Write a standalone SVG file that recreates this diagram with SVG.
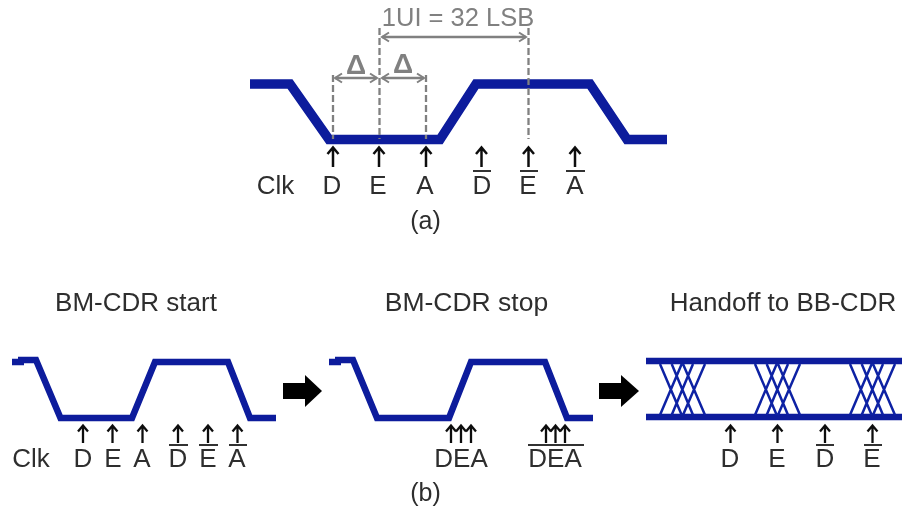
<svg xmlns="http://www.w3.org/2000/svg" width="902" height="507" viewBox="0 0 902 507">
<style>
text{font-family:"Liberation Sans",Arial,sans-serif;fill:#2e2e2e;font-size:26px;text-anchor:middle}
.g{fill:#808080}
.wa{fill:none;stroke:#0a1a9c;stroke-width:9.5;stroke-linejoin:miter}
.wb{fill:none;stroke:#0a1a9c;stroke-width:6.5;stroke-linejoin:miter}
.eye{fill:none;stroke:#0a1a9c;stroke-width:6.5}
.x{fill:none;stroke:#0f22a4;stroke-width:2.5}
.dash{stroke:#808080;stroke-width:2.3;stroke-dasharray:7 3;fill:none}
.dim{stroke:#808080;stroke-width:2.5;fill:none;marker-start:url(#gs);marker-end:url(#ge)}
.bar{stroke:#333;stroke-width:2;fill:none}
.block{fill:#000}
</style>
<defs>
<filter id="soft" x="0" y="0" width="100%" height="100%"><feGaussianBlur stdDeviation="0.45"/></filter>
<marker id="ge" markerUnits="userSpaceOnUse" markerWidth="12" markerHeight="12" refX="10" refY="6" orient="auto" viewBox="0 0 12 12"><path d="M3 1.5L10 6L3 10.5" fill="none" stroke="#808080" stroke-width="2"/></marker>
<marker id="gs" markerUnits="userSpaceOnUse" markerWidth="12" markerHeight="12" refX="2" refY="6" orient="auto" viewBox="0 0 12 12"><path d="M9 1.5L2 6L9 10.5" fill="none" stroke="#808080" stroke-width="2"/></marker>
<g id="a-up"><path d="M0 0V-19M-5.500 -13L0 -19.500L5.500 -13" fill="none" stroke="#111" stroke-width="2.500"/></g>
<g id="b-up"><path d="M0 0V-17M-5 -11.500L0 -17.500L5 -11.500" fill="none" stroke="#111" stroke-width="2.300"/></g>
<g id="cluster"><path class="x" d="M660 364L681.700 415M671.700 364L693 415M683 364L705 415M660 415L681.700 364M671.700 415L693 364M683 415L705 364"/></g>
</defs>
<g id="picture" filter="url(#soft)">
<rect width="902" height="507" fill="#fff"/>
<g id="wave-a"><path class="wa" d="M250 84H290L329 139.500H440L476 84H590L627 139.500H667"/></g>
<g id="connectors">
<path class="dash" d="M333 75V139M379.500 28V139M426 75V139M528.500 28V139"/>
<path class="dim" d="M335 78H377"/>
<path class="dim" d="M382 78H424"/>
<path class="dim" d="M382 37H526"/>
<path class="block" d="M283 383H305V375L322 391L305 407V399H283Z"/>
<path class="block" d="M599 383H621V375L639 391L621 407V399H599Z"/>
</g>
<g id="labels-a">
<text class="g" x="458" y="26" style="font-size:25.500px">1UI = 32 LSB</text>
<text class="g" x="356" y="74" style="font-size:28px;font-weight:bold">Δ</text>
<text class="g" x="403" y="73" style="font-size:28px;font-weight:bold">Δ</text>
<text x="275.500" y="194">Clk</text>
<text x="425.500" y="229" style="font-size:25px">(a)</text>
</g>
<g id="clk-a">
<g id="a-D"><use href="#a-up" x="333" y="167"/><text x="332" y="194">D</text></g>
<g id="a-E"><use href="#a-up" x="379" y="167"/><text x="378" y="194">E</text></g>
<g id="a-A"><use href="#a-up" x="426" y="167"/><text x="425" y="194">A</text></g>
<g id="a-Dbar"><use href="#a-up" x="481.500" y="167"/><path class="bar" d="M473 171H491"/><text x="482" y="194">D</text></g>
<g id="a-Ebar"><use href="#a-up" x="528.500" y="167"/><path class="bar" d="M520 171H538"/><text x="528" y="194">E</text></g>
<g id="a-Abar"><use href="#a-up" x="575" y="167"/><path class="bar" d="M566 171H585"/><text x="575" y="194">A</text></g>
</g>
<g id="title-start"><text x="136" y="311">BM-CDR start</text></g>
<g id="title-stop"><text x="466.500" y="311" style="font-size:26.500px">BM-CDR stop</text></g>
<g id="title-handoff"><text x="783" y="311">Handoff to BB-CDR</text></g>
<g id="wave-b1"><path class="wb" d="M12 362H24M18 360H36L60.500 418H132L155 362H228L250 418H276"/></g>
<g id="wave-b2"><path class="wb" d="M329 362H341M335 360H353L377 418H449L471 362H545L567 418H593"/></g>
<g id="eye">
<path class="eye" d="M646 361H902M646 417H902"/>
<use href="#cluster"/><use href="#cluster" x="95"/><use href="#cluster" x="190"/>
</g>
<g id="clk-b1">
<text x="31" y="467">Clk</text>
<g><use href="#b-up" x="83" y="443"/><text x="83" y="467">D</text></g>
<g><use href="#b-up" x="112.500" y="443"/><text x="113" y="467">E</text></g>
<g><use href="#b-up" x="142.500" y="443"/><text x="142" y="467">A</text></g>
<g><use href="#b-up" x="178" y="443"/><path class="bar" d="M169 445H188"/><text x="178" y="467">D</text></g>
<g><use href="#b-up" x="208" y="443"/><path class="bar" d="M199 445H218"/><text x="208" y="467">E</text></g>
<g><use href="#b-up" x="237.500" y="443"/><path class="bar" d="M229 445H247"/><text x="237" y="467">A</text></g>
</g>
<g id="clk-b2">
<g><use href="#b-up" x="451" y="443"/><use href="#b-up" x="461" y="443"/><use href="#b-up" x="471" y="443"/><text x="461" y="467">DEA</text></g>
<g><use href="#b-up" x="546" y="443"/><use href="#b-up" x="555.500" y="443"/><use href="#b-up" x="565" y="443"/><path class="bar" d="M528 445H584"/><text x="555" y="467">DEA</text></g>
</g>
<g id="clk-b3">
<g><use href="#b-up" x="730.500" y="443"/><text x="730" y="467">D</text></g>
<g><use href="#b-up" x="777.500" y="443"/><text x="777" y="467">E</text></g>
<g><use href="#b-up" x="825" y="443"/><path class="bar" d="M816 445H834"/><text x="825" y="467">D</text></g>
<g><use href="#b-up" x="872.500" y="443"/><path class="bar" d="M864 445H882"/><text x="872" y="467">E</text></g>
</g>
<g id="label-b"><text x="425.500" y="501" style="font-size:25px">(b)</text></g>
</g>
</svg>
